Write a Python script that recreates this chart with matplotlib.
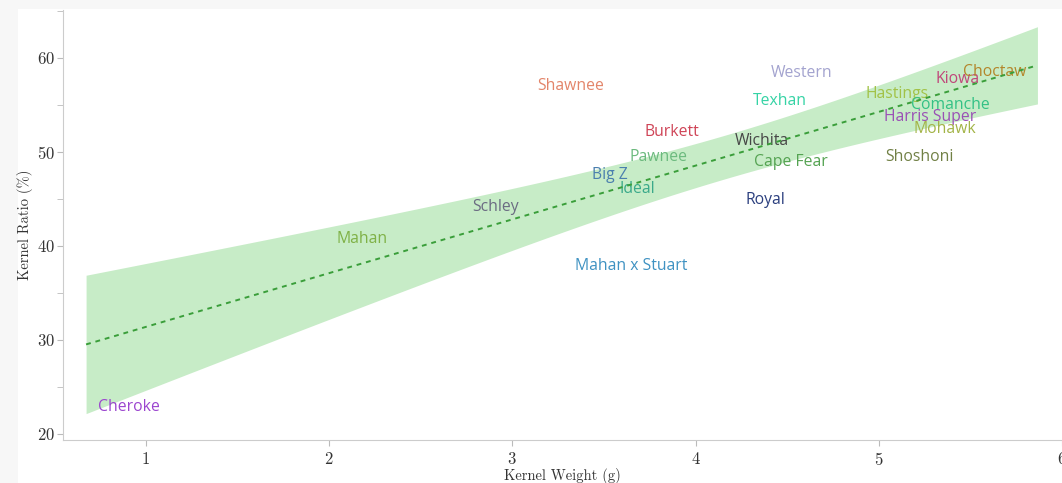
import numpy as np
import matplotlib
matplotlib.use("Agg")
import matplotlib.pyplot as plt
from matplotlib.patches import Rectangle

# Walnut cultivars: kernel weight (g) vs kernel ratio (%)
names = ["Cheroke", "Mahan", "Schley", "Mahan x Stuart", "Big Z", "Ideal",
         "Pawnee", "Burkett", "Shawnee", "Royal", "Cape Fear", "Wichita",
         "Texhan", "Western", "Shoshoni", "Hastings", "Comanche",
         "Harris Super", "Mohawk", "Kiowa", "Choctaw"]
weight = [0.91, 2.18, 2.91, 3.65, 3.53, 3.68, 3.80, 3.87, 3.32, 4.38, 4.52,
          4.36, 4.46, 4.58, 5.22, 5.10, 5.39, 5.28, 5.36, 5.43, 5.63]
ratio = [22.9, 40.7, 44.1, 37.9, 47.6, 46.1, 49.5, 52.1, 57.0, 44.9, 48.9,
         51.2, 55.4, 58.4, 49.5, 56.2, 55.0, 53.7, 52.4, 57.8, 58.5]
colors = ["#9b45cf", "#7fb146", "#6b6b82", "#3f92c2", "#4a7fae", "#3aa98a",
          "#6cba7e", "#cf4457", "#e3856a", "#2b3f7e", "#55a352", "#474747",
          "#35d3a5", "#a3a3cf", "#718045", "#a2c247", "#33c185",
          "#9a50b5", "#a3b447", "#c0467a", "#b3862a"]

plt.rcParams['font.family'] = 'cmr10'
plt.rcParams['axes.formatter.use_mathtext'] = True

x = np.array(weight)
y = np.array(ratio)
n = len(x)

# linear fit with 95% confidence band
slope, intercept = np.polyfit(x, y, 1)
resid = y - (slope * x + intercept)
s = np.sqrt(np.sum(resid**2) / (n - 2))
sxx = np.sum((x - x.mean())**2)
t95 = 2.093
pad = 0.05 * (x.max() - x.min())
xs = np.linspace(x.min() - pad, x.max() + pad, 100)
ys = slope * xs + intercept
half = t95 * s * np.sqrt(1.0 / n + (xs - x.mean())**2 / sxx)

fig = plt.figure(figsize=(10.62, 4.83), dpi=100)
fig.patch.set_facecolor("#f7f7f7")
fig.patches.append(Rectangle((18 / 1062, 0), 1, 1 - 9 / 483, transform=fig.transFigure,
                             facecolor="white", edgecolor="none", zorder=-5))
ax = fig.add_axes([63 / 1062, 43 / 483, 1 - 63 / 1062, 430 / 483])
ax.patch.set_alpha(0)

ax.fill_between(xs, ys - half, ys + half, color="#c7ecc7", lw=0, zorder=1)
for xi, yi, nm, c in zip(weight, ratio, names, colors):
    ax.text(xi, yi, nm, ha="center", va="center", color=c, fontsize=11.3,
            family="Open Sans", zorder=2)
ax.plot(xs, ys, ls=(0, (2.5, 2.5)), color="#3a9e3a", lw=1.4, zorder=3)

ax.set_xlim(0.548, 5.995)
ax.set_ylim(19.36, 65.1)
ax.set_xticks([1, 2, 3, 4, 5, 6])
ax.set_yticks([20, 30, 40, 50, 60])
ax.set_yticks([25, 35, 45, 55, 65], minor=True)

for side in ["top", "right"]:
    ax.spines[side].set_visible(False)
for side in ["left", "bottom"]:
    ax.spines[side].set_color("#cccccc")
ax.tick_params(which="both", color="#bbbbbb", labelcolor="#333333", labelsize=12,
               length=4)
ax.tick_params(axis="x", pad=4)
ax.tick_params(axis="y", pad=2)

ax.set_xlabel("Kernel Weight (g)", fontsize=10.5, color="#333333", labelpad=0)
ax.set_ylabel("Kernel Ratio (%)", fontsize=10.5, color="#333333", labelpad=3)

fig.savefig("out.png", dpi=100, facecolor=fig.get_facecolor())
